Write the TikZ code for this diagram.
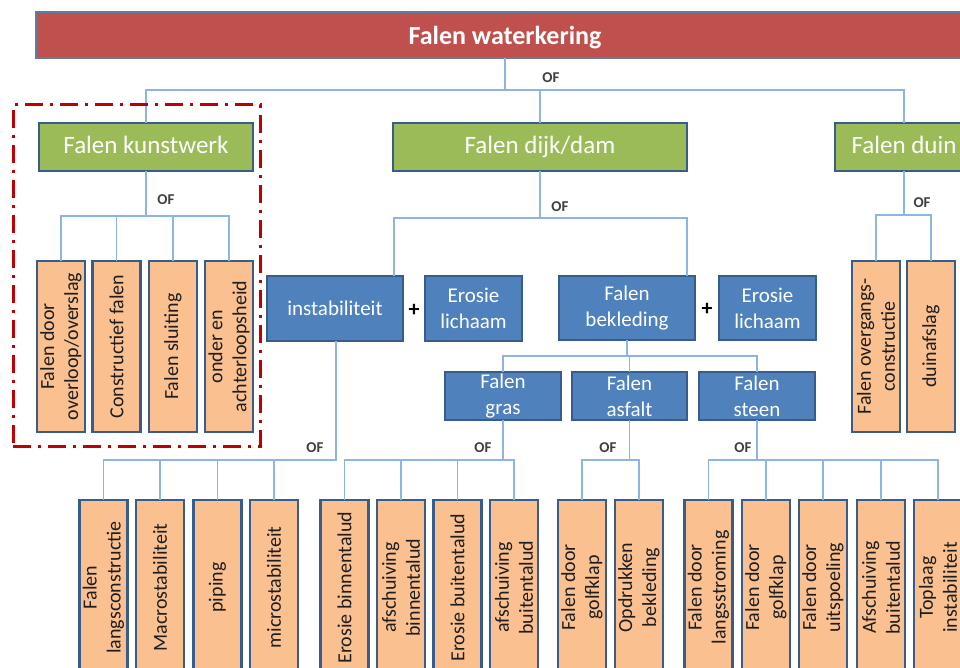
\documentclass[tikz,border=0pt]{standalone}
\usepackage{fontspec}
\setmainfont{Carlito}
\definecolor{barred}{HTML}{C0504D}
\definecolor{bargreen}{HTML}{9BBB59}
\definecolor{boxblue}{HTML}{4F81BD}
\definecolor{leaforange}{HTML}{FAC090}
\definecolor{edgeblue}{HTML}{385D8A}
\definecolor{linkblue}{HTML}{8EB4E3}
\definecolor{markred}{HTML}{C00000}
\definecolor{txtgrey}{HTML}{1E1E1E}

\begin{document}
\begin{tikzpicture}[x=1pt,y=-1pt,
  every node/.style={inner sep=0pt, outer sep=0pt},
  topbar/.style={rectangle, fill=barred, draw=edgeblue!80, line width=2pt, text=white,
    font=\fontsize{26}{30}\selectfont\bfseries, text height=24, text depth=4},
  headbox/.style={rectangle, fill=bargreen, draw=edgeblue, line width=2pt, text=white,
    font=\fontsize{25}{30}\selectfont, minimum height=48, text height=18, text depth=4},
  midbox/.style={rectangle, fill=boxblue, draw=edgeblue, line width=1.6pt, text=white,
    font=\fontsize{21}{26}\selectfont, align=center},
  leaf/.style={rectangle, rotate=90, fill=leaforange, draw=edgeblue, line width=2.4pt,
    text=txtgrey, font=\fontsize{20}{24}\selectfont, align=center, minimum height=48},
  upper/.style={leaf, minimum width=171},
  lower/.style={leaf, minimum width=175},
  link/.style={draw=linkblue, line width=1.8pt},
  oflabel/.style={text=txtgrey!85, font=\fontsize{15}{18}\selectfont\bfseries},
  plus/.style={text=black, font=\fontsize{22}{24}\selectfont\bfseries},
  focusframe/.style={draw=markred, line width=3pt, dash pattern=on 18pt off 7pt on 3pt off 7pt}
]
\useasboundingbox (0,0) rectangle (960,668);
\clip (0,0) rectangle (960,668);
\fill[white] (0,0) rectangle (960,668);

% top level
\node[topbar, minimum width=938, minimum height=46] (top) at (505,35) {Falen waterkering};

% second level
\node[headbox, minimum width=214] (kw) at (146,147) {Falen kunstwerk};
\node[headbox, minimum width=294] (dd) at (540,147) {Falen dijk/dam};
\node[headbox, minimum width=138] (duin) at (904,147) {Falen duin};

% dike mechanisms
\node[midbox, minimum width=136, minimum height=65] (inst) at (335,308.5) {instabiliteit};
\node[midbox, minimum width=97, minimum height=65] (er1) at (473.5,308.5) {Erosie\\lichaam};
\node[midbox, minimum width=136, minimum height=64] (bek) at (627,308) {Falen\\bekleding};
\node[midbox, minimum width=97, minimum height=64] (er2) at (767.5,308) {Erosie\\lichaam};
\node[plus] (p1) at (414,310) {+};
\node[plus] (p2) at (707,309) {+};

\node[midbox, minimum width=116, minimum height=48] (gras) at (503,396) {Falen\\gras};
\node[midbox, minimum width=115, minimum height=48] (asf) at (629.5,396) {Falen\\asfalt};
\node[midbox, minimum width=116, minimum height=48] (steen) at (757,396) {Falen\\steen};

% structure leaves
\node[upper] (k1) at (61,346.5) {Falen door\\overloop/overslag};
\node[upper] (k2) at (116.5,346.5) {Constructief falen};
\node[upper] (k3) at (173,346.5) {Falen sluiting};
\node[upper] (k4) at (229,346.5) {onder en\\achterloopsheid};

% dune leaves
\node[upper] (u1) at (876,346.5) {Falen overgangs-\\constructie};
\node[upper] (u2) at (931,346.5) {duinafslag};

% bottom leaves
\node[lower] (i1) at (103.5,587.5) {Falen\\langsconstructie};
\node[lower] (i2) at (160,587.5) {Macrostabiliteit};
\node[lower] (i3) at (217.5,587.5) {piping};
\node[lower] (i4) at (274,587.5) {microstabiliteit};

\node[lower] (g1) at (344.5,587.5) {Erosie binnentalud};
\node[lower] (g2) at (401,587.5) {afschuiving\\binnentalud};
\node[lower] (g3) at (457.5,587.5) {Erosie buitentalud};
\node[lower] (g4) at (514,587.5) {afschuiving\\buitentalud};

\node[lower] (a1) at (582,587.5) {Falen door\\golfklap};
\node[lower] (a2) at (639,587.5) {Opdrukken\\bekleding};

\node[lower] (s1) at (708.5,587.5) {Falen door\\langsstroming};
\node[lower] (s2) at (766,587.5) {Falen door\\golfklap};
\node[lower] (s3) at (823,587.5) {Falen door\\uitspoeling};
\node[lower] (s4) at (881,587.5) {Afschuiving\\buitentalud};
\node[lower] (s5) at (938,587.5) {Toplaag\\instabiliteit};

% junction points
\coordinate (j0) at (505,90);
\coordinate (jk) at (146,216);
\coordinate (jd) at (540,218);
\coordinate (dl) at (394,218);
\coordinate (dr) at (687,218);
\coordinate (ji) at (336,460);
\coordinate (jg) at (503,460);
\coordinate (jb) at (627,356);
\coordinate (ja) at (629.5,460);
\coordinate (js) at (757,460);
\coordinate (ju) at (904,215);

% connectors
\draw[link] (top.south) -- (j0);
\draw[link] (kw.north) |- (j0) -| (duin.north);
\draw[link] (dd.north) -- (dd.north |- j0);

\draw[link] (kw.south) -- (jk);
\draw[link] (k1.east) |- (jk) -| (k4.east);
\draw[link] (k2.east) -- (k2.east |- jk);
\draw[link] (k3.east) -- (k3.east |- jk);

\draw[link] (dd.south) -- (jd);
\draw[link] (inst.north -| dl) -- (dl) -- (dr) -- (bek.north -| dr);

\draw[link] (inst.south -| ji) -- (ji) -| (i1.east);
\draw[link] (i2.east) -- (i2.east |- ji);
\draw[link] (i3.east) -- (i3.east |- ji);
\draw[link] (i4.east) -- (i4.east |- ji);

\draw[link] (bek.south) -- (jb);
\draw[link] (gras.north) |- (jb) -| (steen.north);
\draw[link] (asf.north) -- (asf.north |- jb);

\draw[link] (gras.south) -- (jg);
\draw[link] (g1.east) |- (jg) -| (g4.east);
\draw[link] (g2.east) -- (g2.east |- jg);
\draw[link] (g3.east) -- (g3.east |- jg);

\draw[link] (asf.south) -- (ja);
\draw[link] (a1.east) |- (ja) -| (a2.east);

\draw[link] (steen.south) -- (js);
\draw[link] (s1.east) |- (js) -| (s5.east);
\draw[link] (s2.east) -- (s2.east |- js);
\draw[link] (s3.east) -- (s3.east |- js);
\draw[link] (s4.east) -- (s4.east |- js);

\draw[link] (duin.south) -- (ju);
\draw[link] (u1.east) |- (ju) -| (u2.east);

% OF labels
\node[oflabel] (of0) at (551,78) {OF};
\node[oflabel] (of1) at (166,200) {OF};
\node[oflabel] (of2) at (560,207) {OF};
\node[oflabel] (of3) at (922,203) {OF};
\node[oflabel] (of4) at (315,448) {OF};
\node[oflabel] (of5) at (483,448) {OF};
\node[oflabel] (of6) at (608,448) {OF};
\node[oflabel] (of7) at (743,448) {OF};

% highlighted group
\node[focusframe, minimum width=247, minimum height=341] (focus) at (136.5,275.5) {};
\end{tikzpicture}
\end{document}
